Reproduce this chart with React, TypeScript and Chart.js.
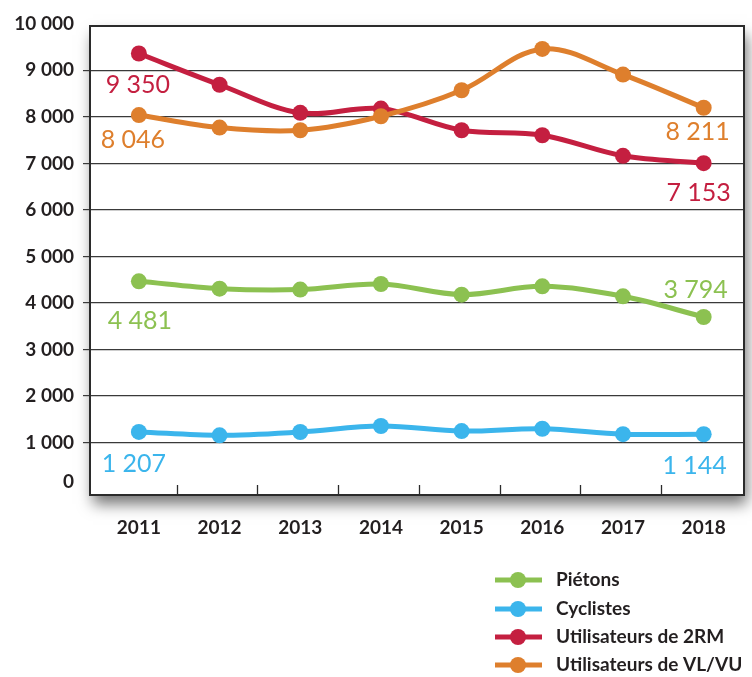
import React, { useEffect, useRef } from "react";
import { Chart, registerables } from "chart.js";

Chart.register(...registerables);

// ---- data ----
const years = ["2011", "2012", "2013", "2014", "2015", "2016", "2017", "2018"];
const seriesNames = ["Piétons", "Cyclistes", "Utilisateurs de 2RM", "Utilisateurs de VL/VU"];
const pietons = [4466, 4309, 4288, 4408, 4180, 4359, 4144, 3700];
const cyclistes = [1230, 1157, 1228, 1357, 1249, 1299, 1182, 1180];
const deuxRoues = [9361, 8690, 8086, 8178, 7712, 7605, 7163, 7005];
const vlvu = [8039, 7770, 7712, 8013, 8571, 9459, 8908, 8195];
const firstLabels = ["4 481", "1 207", "9 350", "8 046"];
const lastLabels = ["3 794", "1 144", "7 153", "8 211"];
const yTickValues = [0, 1000, 2000, 3000, 4000, 5000, 6000, 7000, 8000, 9000, 10000];

// ---- style ----
const colors = ["#8cc151", "#3bb5ec", "#c41f40", "#de7f2d"];
const firstOffsets = [[1, 40], [-5, 32.5], [-1, 31], [-6, 24.5]];
const lastOffsets = [[-8, -27], [-9, 31.5], [-5, 30], [-6, 24.5]];
const TEXT = "#231f20";
const W = 752;
const H = 677;

const fmt = (v: number) => String(v).replace(/\B(?=(\d{3})+(?!\d))/g, " ");

const seriesData = [pietons, cyclistes, deuxRoues, vlvu];

const customPlugin = {
  id: "custom",
  beforeDraw(chart: any) {
    const { ctx, chartArea: a } = chart;
    ctx.save();
    ctx.fillStyle = "#ffffff";
    ctx.fillRect(0, 0, chart.width, chart.height);
    ctx.shadowColor = "rgba(0,0,0,0.55)";
    ctx.shadowBlur = 14;
    ctx.shadowOffsetX = 3;
    ctx.shadowOffsetY = 9;
    ctx.fillRect(a.left, a.top, a.right - a.left, a.bottom - a.top);
    ctx.restore();
  },
  beforeDatasetsDraw(chart: any) {
    const { ctx, chartArea: a, scales } = chart;
    const xs = scales.x;
    ctx.save();
    // bottom tick marks
    ctx.strokeStyle = "#2b2b2b";
    ctx.lineWidth = 1.3;
    for (let i = 0; i < years.length - 1; i++) {
      const px = Math.round(xs.getPixelForValue(i + 0.47)) + 0.5;
      ctx.beginPath();
      ctx.moveTo(px, a.bottom);
      ctx.lineTo(px, a.bottom - 10);
      ctx.stroke();
    }
    // frame
    ctx.lineWidth = 2;
    ctx.strokeRect(a.left, a.top, a.right - a.left, a.bottom - a.top);
    ctx.restore();
  },
  afterDraw(chart: any) {
    const { ctx, chartArea: a, scales } = chart;
    const xs = scales.x;
    const ys = scales.y;
    ctx.save();
    // y tick labels
    ctx.fillStyle = TEXT;
    ctx.font = "bold 19px Lato";
    ctx.textAlign = "right";
    ctx.textBaseline = "middle";
    yTickValues.forEach((v) => {
      let py = ys.getPixelForValue(v);
      if (v === 0) py -= 7;
      ctx.fillText(fmt(v), 74, py);
    });
    // x labels
    ctx.textAlign = "center";
    years.forEach((y, i) => {
      ctx.fillText(y, xs.getPixelForValue(i), a.bottom + 33);
    });
    // data labels
    ctx.font = "25px Lato";
    seriesData.forEach((arr, s) => {
      ctx.fillStyle = colors[s];
      const n = arr.length - 1;
      ctx.fillText(
        firstLabels[s],
        xs.getPixelForValue(0) + firstOffsets[s][0],
        ys.getPixelForValue(arr[0]) + firstOffsets[s][1]
      );
      ctx.fillText(
        lastLabels[s],
        xs.getPixelForValue(n) + lastOffsets[s][0],
        ys.getPixelForValue(arr[n]) + lastOffsets[s][1]
      );
    });
    // legend
    const rowY = [580, 609, 637, 665];
    seriesNames.forEach((name, s) => {
      const y = rowY[s];
      ctx.strokeStyle = colors[s];
      ctx.lineWidth = 5;
      ctx.beginPath();
      ctx.moveTo(495, y);
      ctx.lineTo(542, y);
      ctx.stroke();
      ctx.fillStyle = colors[s];
      ctx.beginPath();
      ctx.arc(518, y, 8, 0, Math.PI * 2);
      ctx.fill();
      ctx.fillStyle = TEXT;
      ctx.font = "bold 19px Lato";
      ctx.textAlign = "left";
      ctx.fillText(name, 556, y);
    });
    ctx.restore();
  },
};

export default function App() {
  const ref = useRef<HTMLCanvasElement | null>(null);
  useEffect(() => {
    if (!ref.current) return;
    const orders = [2, 3, 1, 0];
    const chart = new Chart(ref.current, {
      type: "line",
      data: {
        datasets: seriesData.map((arr, s) => ({
          label: seriesNames[s],
          data: arr.map((v, i) => ({ x: i, y: v })),
          borderColor: colors[s],
          backgroundColor: colors[s],
          borderWidth: 5,
          pointRadius: 8,
          pointBorderWidth: 0,
          pointBackgroundColor: colors[s],
          tension: 0.35,
          fill: false,
          order: orders[s],
        })),
      },
      options: {
        responsive: false,
        animation: false,
        events: [],
        layout: { padding: { top: 26, right: 7, bottom: 182, left: 0 } },
        plugins: {
          legend: { display: false },
          tooltip: { enabled: false },
        },
        scales: {
          x: {
            type: "linear",
            display: false,
            min: -0.606,
            max: 7.5,
          },
          y: {
            type: "linear",
            min: -125,
            max: 9952,
            border: { display: false },
            grid: {
              color: "#3a3a3a",
              lineWidth: 1.2,
              drawTicks: true,
              tickLength: 7,
            },
            ticks: { display: false },
            afterBuildTicks: (scale: any) => {
              scale.ticks = yTickValues
                .filter((v) => v > 0 && v < 10000)
                .map((v) => ({ value: v }));
            },
            afterFit: (scale: any) => {
              scale.width = 90;
            },
          },
        },
      },
      plugins: [customPlugin],
    });
    return () => chart.destroy();
  }, []);
  return (
    <div style={{ position: "fixed", left: 0, top: 0, width: W, height: H, background: "#fff" }}>
      <canvas ref={ref} width={W} height={H} style={{ width: W, height: H, display: "block" }} />
    </div>
  );
}
